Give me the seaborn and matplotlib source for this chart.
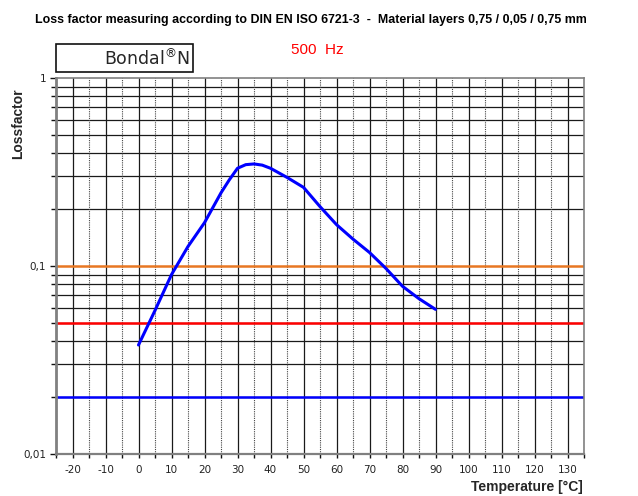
import matplotlib
matplotlib.use("Agg")
import matplotlib.pyplot as plt
import matplotlib.patches as mpatches
from matplotlib.ticker import FixedLocator, NullFormatter
import seaborn as sns
import pandas as pd

# ---- data ----
temperature = [0, 5, 10, 15, 20, 25, 27.5, 30, 32.5, 35, 37.5, 40, 45, 50, 55, 60, 65, 70, 75, 80, 85, 90]
lossfactor = [0.038, 0.058, 0.090, 0.127, 0.170, 0.245, 0.287, 0.331, 0.346, 0.349, 0.344, 0.331,
              0.296, 0.262, 0.207, 0.166, 0.139, 0.118, 0.097, 0.078, 0.067, 0.0588]
ref_values = [0.1, 0.05, 0.02]
ref_colors = ["#e87722", "#ff0000", "#0000ff"]
x_ticks = [-20, -10, 0, 10, 20, 30, 40, 50, 60, 70, 80, 90, 100, 110, 120, 130]
y_ticks = [0.01, 0.1, 1]
y_ticklabels = ["0,01", "0,1", "1"]

title = "Loss factor measuring according to DIN EN ISO 6721-3  -  Material layers 0,75 / 0,05 / 0,75 mm"

sns.set_theme(style="white")
plt.rcParams["font.family"] = ["Liberation Sans", "DejaVu Sans"]
plt.rcParams["mathtext.fontset"] = "dejavusans"

fig = plt.figure(figsize=(6.38, 4.96), dpi=100)
ax = fig.add_axes([56 / 638, 1 - 454 / 496, (584 - 56) / 638, (454 - 78) / 496])

ax.set_yscale("log")
ax.set_xlim(-25, 135)
ax.set_ylim(0.01, 1)

# grid: minor log lines
minor_y = [m * 10 ** e for e in (-2, -1) for m in range(2, 10)]
for v in minor_y:
    ax.axhline(v, color="#1a1a1a", lw=0.9, zorder=1)
for x in range(-20, 135, 10):
    ax.axvline(x, color="#1a1a1a", lw=0.9, zorder=1)
for x in range(-25, 140, 10):
    ax.axvline(x, color="#444444", lw=0.8, ls=(0, (1, 1)), zorder=1)

for v, c in zip(ref_values, ref_colors):
    ax.axhline(v, color=c, lw=1.8, zorder=2)

df = pd.DataFrame({"Temperature": temperature, "Lossfactor": lossfactor})
sns.lineplot(data=df, x="Temperature", y="Lossfactor", ax=ax, color="#0000ff", lw=2.2, zorder=3)

ax.yaxis.set_major_locator(FixedLocator(y_ticks))
ax.set_yticklabels(y_ticklabels)
ax.yaxis.set_minor_locator(FixedLocator(minor_y))
ax.yaxis.set_minor_formatter(NullFormatter())
ax.xaxis.set_major_locator(FixedLocator(x_ticks))
ax.xaxis.set_minor_locator(FixedLocator(list(range(-25, 140, 10))))
ax.set_xticklabels([str(t) for t in x_ticks])

for lbl in ax.get_xticklabels() + ax.get_yticklabels():
    lbl.set_family("DejaVu Sans")

ax.tick_params(axis="both", which="both", direction="out", color="#111111",
               labelsize=7.5, labelcolor="#222222")
ax.tick_params(axis="y", which="major", length=4, width=1, pad=3)
ax.tick_params(axis="y", which="minor", length=3.5, width=1)
ax.tick_params(axis="x", which="both", length=3, width=1, pad=5)
ax.tick_params(left=True, bottom=True, which="both")

for s in ax.spines.values():
    s.set_color("#808080")
    s.set_linewidth(1.2)
ax.spines["left"].set_linewidth(2)
ax.spines["bottom"].set_linewidth(1.6)

ax.set_xlabel("")
ax.set_ylabel("")

fig.text(311 / 638, 1 - 20 / 496, title, ha="center", va="center",
         fontsize=8.9, fontweight="bold", color="#000000")
fig.text(18 / 638, 1 - 124 / 496, "Lossfactor", rotation=90, ha="center", va="center",
         fontsize=10, fontweight="bold")
fig.text(583 / 638, 1 - 487 / 496, "Temperature [°C]", ha="right", va="center",
         fontsize=10, fontweight="bold")
fig.text(317 / 638, 1 - 50 / 496, "500  Hz", ha="center", va="center",
         fontsize=11, color="#ff0000")

box = mpatches.Rectangle((56 / 638, 1 - 72 / 496), (193 - 56) / 638, 28 / 496,
                         transform=fig.transFigure, fill=False, edgecolor="#111111", lw=1.2)
fig.patches.append(box)
fig.text(190 / 638, 1 - 59 / 496, "Bondal$^{\u00ae}$N", ha="right", va="center",
         fontsize=12.5, family="DejaVu Sans")

fig.savefig("out.png", dpi=100)
